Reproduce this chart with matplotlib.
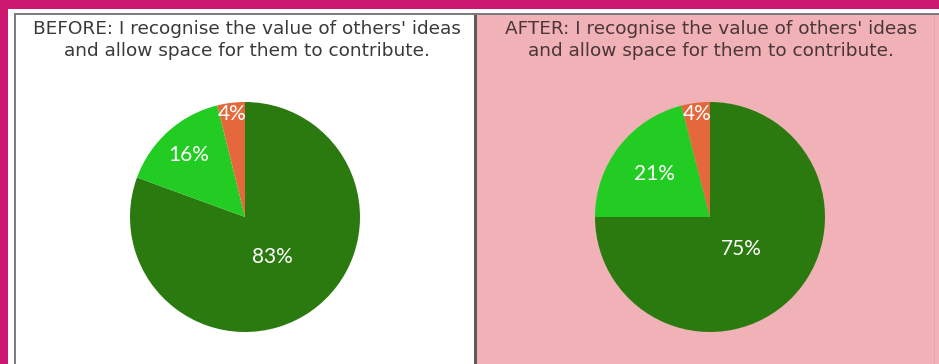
import numpy as np
import matplotlib.pyplot as plt
from matplotlib.patches import Rectangle

# survey answers, before and after
before_vals = [83, 16, 4]
after_vals = [75, 21, 4]
slice_colors = ["#2b7a0f", "#22cc22", "#e4683b"]
before_title = "BEFORE: I recognise the value of others' ideas\nand allow space for them to contribute."
after_title = "AFTER: I recognise the value of others' ideas\nand allow space for them to contribute."

W, H = 939, 364
fig = plt.figure(figsize=(W / 100, H / 100), dpi=100, facecolor="white")


def px_box(x0, y0, x1, y1):
    # pixel box (top-left origin) -> figure fraction rect
    return [x0 / W, 1 - y1 / H, (x1 - x0) / W, (y1 - y0) / H]


# magenta border strips
fig.add_artist(Rectangle((0, 1 - 9 / H), 1, 9 / H, transform=fig.transFigure,
                         facecolor="#cb1770", edgecolor="none"))
fig.add_artist(Rectangle((0, 0), 8 / W, 1, transform=fig.transFigure,
                         facecolor="#cb1770", edgecolor="none"))

# two panels
panels = []
for box, bg in [(px_box(15, 14, 475, 366), "white"), (px_box(476, 14, 942, 366), "#f0b2b6")]:
    ax = fig.add_axes(box, facecolor=bg)
    ax.set_xticks([])
    ax.set_yticks([])
    ax.spines["bottom"].set_visible(False)
    for s in ["left", "top", "right"]:
        ax.spines[s].set_color("#7a7a7a")
        ax.spines[s].set_linewidth(1.4)
    panels.append(ax)
panels[0].spines["right"].set_color("#5a5a5a")
panels[1].spines["left"].set_color("#5a5a5a")
panels[1].spines["right"].set_visible(False)
# faint line near the right edge of the pink panel
panels[1].axvline(458 / 466, color="#e2a6aa", lw=0.8)

fig.text(247 / W, 1 - 40 / H, before_title, ha="center", va="center",
         fontsize=13.3, color="#3a3a3a", linespacing=1.32, family="DejaVu Sans")
fig.text(711 / W, 1 - 40 / H, after_title, ha="center", va="center",
         fontsize=13.3, color="#4a3538", linespacing=1.32, family="DejaVu Sans")


def draw_pie(cx, vals, dists):
    pax = fig.add_axes(px_box(cx - 115, 217 - 115, cx + 115, 217 + 115))
    pax.set_facecolor("none")
    wedges, _ = pax.pie(vals, colors=slice_colors, startangle=90, counterclock=False,
                        radius=1, wedgeprops=dict(linewidth=0))
    for w, v, d in zip(wedges, vals, dists):
        ang = np.deg2rad((w.theta1 + w.theta2) / 2)
        pax.text(d * np.cos(ang), d * np.sin(ang), f"{v}%", ha="center", va="center",
                 color="white", fontsize=15, family="Lato")
    pax.set_xlim(-1, 1)
    pax.set_ylim(-1, 1)
    pax.set_aspect("equal")
    pax.axis("off")


draw_pie(245, before_vals, [0.42, 0.73, 0.9])
draw_pie(710, after_vals, [0.39, 0.61, 0.9])

fig.savefig("out.png", dpi=100)
